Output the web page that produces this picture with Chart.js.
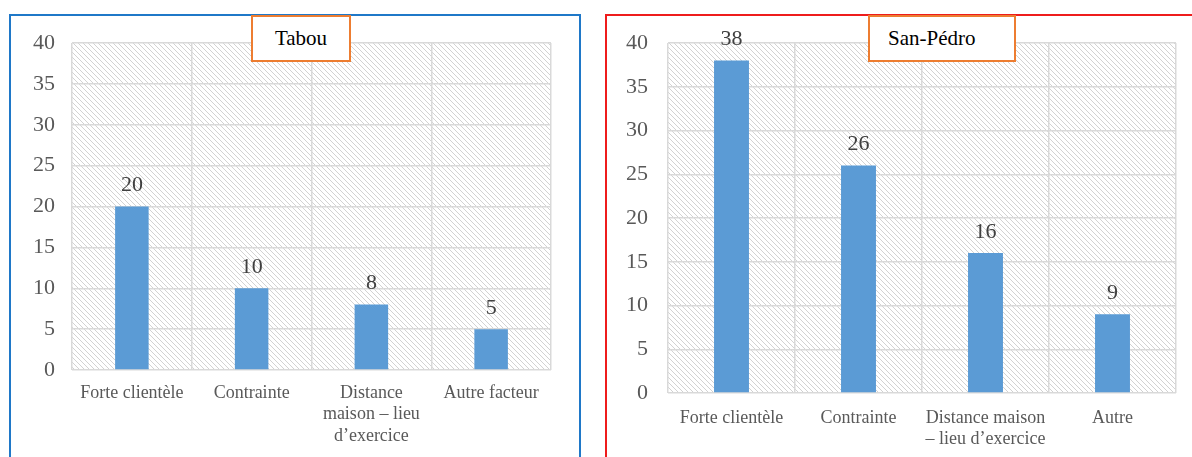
<!DOCTYPE html>
<html>
<head>
<meta charset="utf-8">
<script src="https://cdn.jsdelivr.net/npm/chart.js@4.4.1/dist/chart.umd.min.js"></script>
<style>
  html, body { margin: 0; padding: 0; background: #fff; }
  body { width: 1192px; height: 457px; position: relative; overflow: hidden; font-family: "Liberation Serif", serif; }
  .panel { position: absolute; top: 14px; height: 460px; box-sizing: border-box; }
  #panelTabou { left: 9px; width: 572px; border: 2px solid #1f78c8; }
  #panelSan { left: 605px; width: 600px; border: 2px solid #ee1c1c; }
  canvas { position: absolute; }
  .titre { position: absolute; top: 15px; height: 47px; box-sizing: border-box; border: 2.5px solid #ed7d31;
           background: #fff; color: #000; font-size: 21px; line-height: 42px; }
</style>
</head>
<body>
<div class="panel" id="panelTabou"></div>
<div class="panel" id="panelSan"></div>
<canvas id="grTabou" width="567" height="441" style="left:11px;top:16px"></canvas>
<canvas id="grSan" width="585" height="441" style="left:607px;top:16px"></canvas>
<div class="titre" style="left:251px;width:100px;text-align:center">Tabou</div>
<div class="titre" style="left:868px;width:148px;padding-left:18px">San-Pédro</div>

<script>
// === DONNÉES ===
const categoriesTabou = ['Forte clientèle', 'Contrainte', ['Distance', 'maison – lieu', 'd’exercice'], 'Autre facteur'];
const valeursTabou = [20, 10, 8, 5];

const categoriesSan = ['Forte clientèle', 'Contrainte', ['Distance maison', '– lieu d’exercice'], 'Autre'];
const valeursSan = [38, 26, 16, 9];

const ticksY = [0, 5, 10, 15, 20, 25, 30, 35, 40];

// motif hachuré du fond
function creerHachure() {
  const c = document.createElement('canvas');
  c.width = 5; c.height = 5;
  const g = c.getContext('2d');
  g.strokeStyle = '#d2d2d2';
  g.lineWidth = 1;
  g.beginPath();
  g.moveTo(-1, -1); g.lineTo(6, 6);
  g.moveTo(-1, 4); g.lineTo(1, 6);
  g.moveTo(4, -1); g.lineTo(6, 1);
  g.stroke();
  return c;
}

const pluginFond = {
  id: 'fond',
  beforeDraw(chart) {
    const { ctx, chartArea } = chart;
    ctx.save();
    ctx.fillStyle = ctx.createPattern(creerHachure(), 'repeat');
    ctx.fillRect(chartArea.left, chartArea.top, chartArea.right - chartArea.left, chartArea.bottom - chartArea.top);
    ctx.restore();
  }
};

// étiquettes de valeur au-dessus des barres
const pluginValeurs = {
  id: 'valeurs',
  afterDatasetsDraw(chart) {
    const ctx = chart.ctx;
    const meta = chart.getDatasetMeta(0);
    ctx.save();
    ctx.font = '22px "Liberation Serif"';
    ctx.fillStyle = '#404040';
    ctx.textAlign = 'center';
    ctx.textBaseline = 'bottom';
    meta.data.forEach((barre, i) => {
      ctx.fillText(chart.data.datasets[0].data[i], barre.x, barre.y - 10);
    });
    ctx.restore();
  }
};

function creerGraphique(id, labels, valeurs, opts) {
  return new Chart(document.getElementById(id), {
    type: 'bar',
    data: {
      labels: labels,
      datasets: [{
        data: valeurs,
        backgroundColor: '#5b9bd5',
        barPercentage: opts.barre,
        categoryPercentage: 1
      }]
    },
    options: {
      responsive: false,
      animation: false,
      layout: { padding: { top: opts.haut, right: opts.droite, left: 0, bottom: 0 } },
      plugins: { legend: { display: false }, tooltip: { enabled: false } },
      scales: {
        x: {
          grid: { color: '#d9d9d9', lineWidth: 1.5, drawTicks: false },
          border: { display: false },
          ticks: {
            color: '#595959',
            font: { family: 'Liberation Serif', size: 18, lineHeight: 1.2 },
            padding: opts.padX,
            maxRotation: 0,
            autoSkip: false
          },
          afterFit(scale) {
            scale.height = opts.hautX;
            scale.paddingLeft = 0;
            scale.paddingRight = 0;
          }
        },
        y: {
          min: 0,
          max: 40,
          afterBuildTicks(scale) { scale.ticks = ticksY.map(v => ({ value: v })); },
          grid: { color: '#d9d9d9', lineWidth: 1.5, drawTicks: false },
          border: { display: false },
          ticks: {
            color: '#595959',
            font: { family: 'Liberation Serif', size: 22 },
            padding: opts.padY
          },
          afterFit(scale) {
            scale.width = 61;
            scale.paddingTop = 0;
            scale.paddingBottom = 0;
          }
        }
      }
    },
    plugins: [pluginFond, pluginValeurs]
  });
}

creerGraphique('grTabou', categoriesTabou, valeursTabou, { barre: 0.28, haut: 27, droite: 27, padX: 12, hautX: 87, padY: 17 });
creerGraphique('grSan', categoriesSan, valeursSan, { barre: 0.275, haut: 27, droite: 16, padX: 14, hautX: 64, padY: 20 });
</script>
</body>
</html>
